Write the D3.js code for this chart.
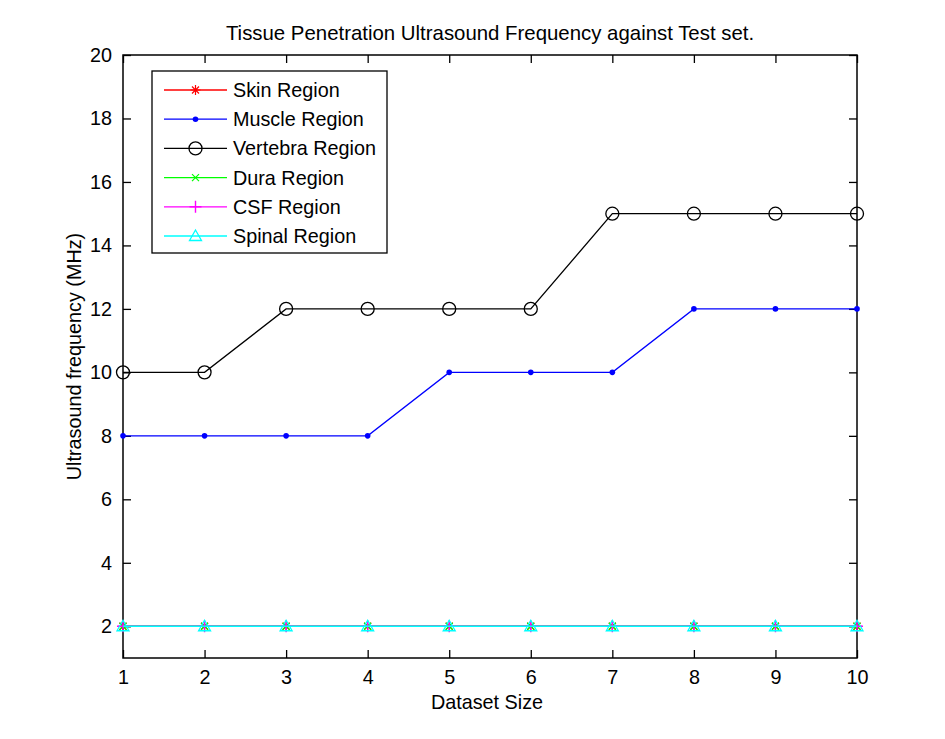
<!DOCTYPE html>
<html>
<head>
<meta charset="utf-8">
<script src="https://cdn.jsdelivr.net/npm/d3@7"></script>
<style>
  body { margin: 0; background: #fff; }
  text { font-family: "Liberation Sans", Arial, sans-serif; fill: #000; }
</style>
</head>
<body>
<svg id="chart" width="945" height="739"></svg>
<script>
// data
const datasetSizes = [1, 2, 3, 4, 5, 6, 7, 8, 9, 10]
const skinRegion = [2, 2, 2, 2, 2, 2, 2, 2, 2, 2]
const muscleRegion = [8, 8, 8, 8, 10, 10, 10, 12, 12, 12]
const vertebraRegion = [10, 10, 12, 12, 12, 12, 15, 15, 15, 15]
const duraRegion = [2, 2, 2, 2, 2, 2, 2, 2, 2, 2]
const csfRegion = [2, 2, 2, 2, 2, 2, 2, 2, 2, 2]
const spinalRegion = [2, 2, 2, 2, 2, 2, 2, 2, 2, 2]
const yTicks = [2, 4, 6, 8, 10, 12, 14, 16, 18, 20]

const series = [
  { name: 'Skin Region', values: skinRegion, color: '#ff0000', marker: 'star' },
  { name: 'Muscle Region', values: muscleRegion, color: '#0000ff', marker: 'dot' },
  { name: 'Vertebra Region', values: vertebraRegion, color: '#000000', marker: 'circle' },
  { name: 'Dura Region', values: duraRegion, color: '#00ff00', marker: 'x' },
  { name: 'CSF Region', values: csfRegion, color: '#ff00ff', marker: 'plus' },
  { name: 'Spinal Region', values: spinalRegion, color: '#00ffff', marker: 'triangle' }
]

const box = { left: 123, right: 857, top: 55, bottom: 658 }
const tickLen = 8
const fontSize = '19.8px'

const svg = d3.select('#chart')

const x = d3.scaleLinear().domain([1, 10]).range([box.left, box.right])
const y = d3.scaleLinear().domain([1, 20]).range([box.bottom, box.top])

// axes, matlab style: ticks pointing inward, on all four sides
const gx = svg.append('g').attr('transform', `translate(0,${box.bottom})`)
  .call(d3.axisBottom(x).tickValues(datasetSizes).tickSizeInner(-tickLen).tickSizeOuter(0).tickPadding(12))
const gxTop = svg.append('g').attr('transform', `translate(0,${box.top})`)
  .call(d3.axisTop(x).tickValues(datasetSizes).tickSizeInner(-tickLen).tickSizeOuter(0).tickFormat(''))
const gy = svg.append('g').attr('transform', `translate(${box.left},0)`)
  .call(d3.axisLeft(y).tickValues(yTicks).tickSizeInner(-tickLen).tickSizeOuter(0).tickPadding(11))
const gyRight = svg.append('g').attr('transform', `translate(${box.right},0)`)
  .call(d3.axisRight(y).tickValues(yTicks).tickSizeInner(-tickLen).tickSizeOuter(0).tickFormat(''))

;[gx, gxTop, gy, gyRight].forEach(g => {
  g.select('.domain').remove()
  g.selectAll('.tick line').attr('stroke', '#000').attr('stroke-width', 1.3)
  g.selectAll('.tick text').style('font-size', fontSize).attr('fill', '#000')
    .style('font-family', '"Liberation Sans", Arial, sans-serif')
})

svg.append('rect')
  .attr('x', box.left).attr('y', box.top)
  .attr('width', box.right - box.left).attr('height', box.bottom - box.top)
  .attr('fill', 'none').attr('stroke', '#000').attr('stroke-width', 1.5)

// marker drawing
function drawMarker(g, kind, cx, cy, color) {
  if (kind === 'star') {
    const r = 5
    const p = d3.path()
    p.moveTo(cx - r, cy); p.lineTo(cx + r, cy)
    p.moveTo(cx, cy - r); p.lineTo(cx, cy + r)
    p.moveTo(cx - r * 0.7, cy - r * 0.7); p.lineTo(cx + r * 0.7, cy + r * 0.7)
    p.moveTo(cx - r * 0.7, cy + r * 0.7); p.lineTo(cx + r * 0.7, cy - r * 0.7)
    g.append('path').attr('d', p.toString()).attr('stroke', color).attr('stroke-width', 1.2).attr('fill', 'none')
  } else if (kind === 'dot') {
    g.append('circle').attr('cx', cx).attr('cy', cy).attr('r', 2.8).attr('fill', color)
  } else if (kind === 'circle') {
    g.append('circle').attr('cx', cx).attr('cy', cy).attr('r', 6.5)
      .attr('fill', 'none').attr('stroke', color).attr('stroke-width', 1.3)
  } else if (kind === 'x') {
    const r = 3.5
    const p = d3.path()
    p.moveTo(cx - r, cy - r); p.lineTo(cx + r, cy + r)
    p.moveTo(cx - r, cy + r); p.lineTo(cx + r, cy - r)
    g.append('path').attr('d', p.toString()).attr('stroke', color).attr('stroke-width', 1.2).attr('fill', 'none')
  } else if (kind === 'plus') {
    const r = 6
    const p = d3.path()
    p.moveTo(cx - r, cy); p.lineTo(cx + r, cy)
    p.moveTo(cx, cy - r); p.lineTo(cx, cy + r)
    g.append('path').attr('d', p.toString()).attr('stroke', color).attr('stroke-width', 1.4).attr('fill', 'none')
  } else if (kind === 'triangle') {
    const r = 6
    g.append('path')
      .attr('d', `M${cx},${cy - r}L${cx + r},${cy + r * 0.75}L${cx - r},${cy + r * 0.75}Z`)
      .attr('stroke', color).attr('stroke-width', 1.3).attr('fill', 'none')
  }
}

const line = d3.line()
  .x((d, i) => x(datasetSizes[i]))
  .y(d => y(d))

const plot = svg.append('g')
series.forEach(s => {
  const g = plot.append('g')
  g.append('path').attr('d', line(s.values))
    .attr('fill', 'none').attr('stroke', s.color).attr('stroke-width', 1.3)
  s.values.forEach((v, i) => drawMarker(g, s.marker, x(datasetSizes[i]), y(v), s.color))
})

// legend
const legend = svg.append('g')
legend.append('rect')
  .attr('x', 152).attr('y', 71).attr('width', 235).attr('height', 182)
  .attr('fill', '#fff').attr('stroke', '#000').attr('stroke-width', 1.3)
series.forEach((s, i) => {
  const ly = 90 + i * 29.2
  const g = legend.append('g')
  g.append('line').attr('x1', 164).attr('x2', 227).attr('y1', ly).attr('y2', ly)
    .attr('stroke', s.color).attr('stroke-width', 1.3)
  drawMarker(g, s.marker, 195.5, ly, s.color)
  g.append('text').attr('x', 233).attr('y', ly).attr('dy', '0.35em')
    .style('font-size', fontSize).text(s.name)
})

// title and axis labels
svg.append('text').attr('x', 490).attr('y', 40).attr('text-anchor', 'middle')
  .style('font-size', '20.4px').text('Tissue Penetration Ultrasound Frequency against Test set.')
svg.append('text').attr('x', 487).attr('y', 709).attr('text-anchor', 'middle')
  .style('font-size', fontSize).text('Dataset Size')
svg.append('text')
  .attr('transform', `translate(81,${(box.top + box.bottom) / 2}) rotate(-90)`)
  .attr('text-anchor', 'middle')
  .style('font-size', fontSize).text('Ultrasound frequency (MHz)')
</script>
</body>
</html>
